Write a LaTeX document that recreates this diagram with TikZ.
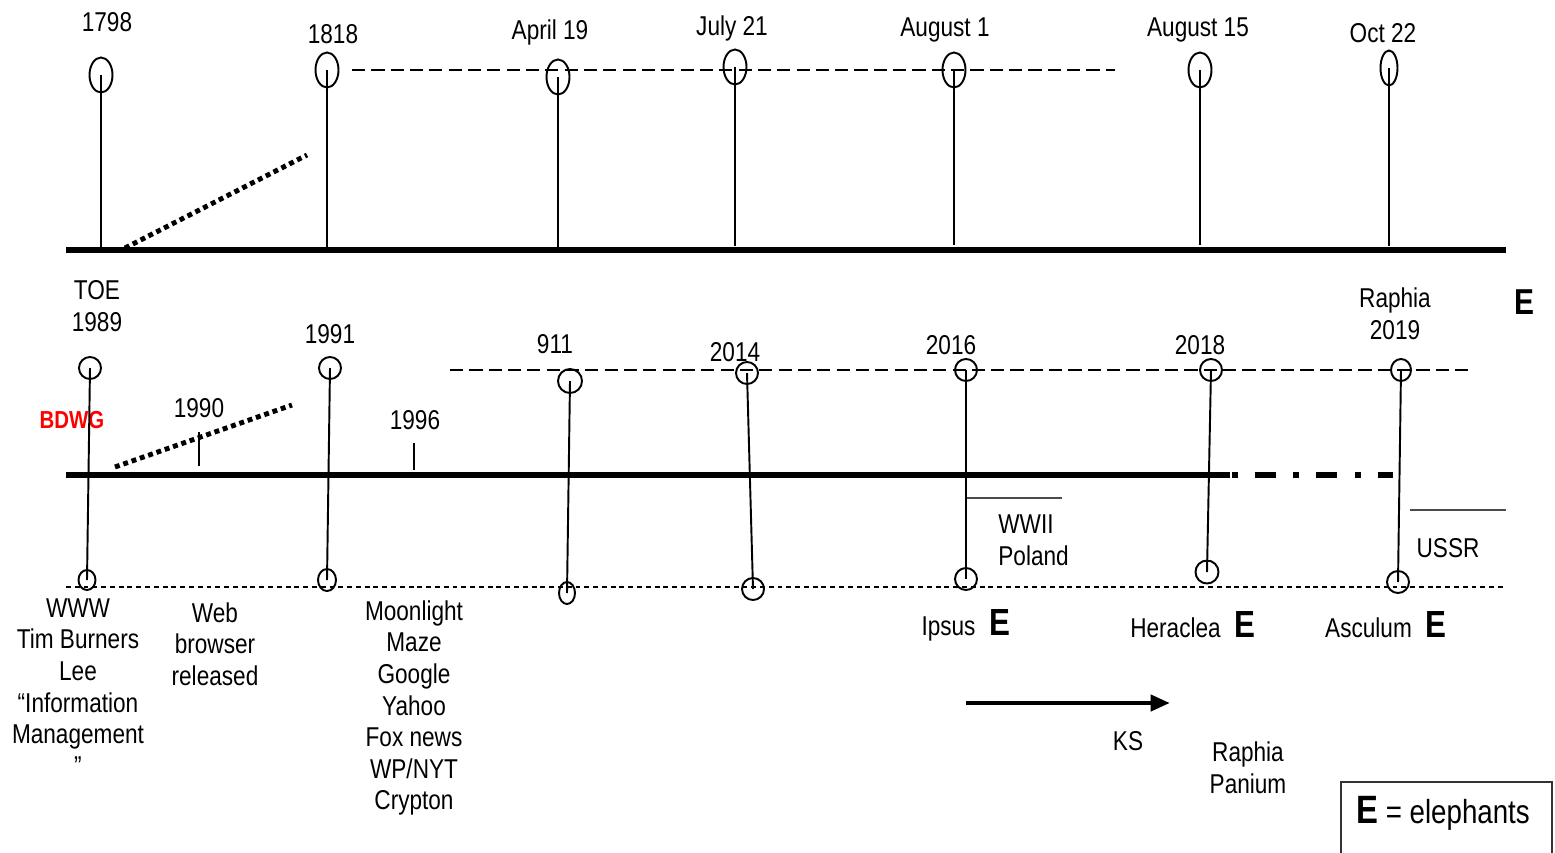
\documentclass[tikz,border=0pt]{standalone}
\usepackage{fontspec}
\setmainfont{Liberation Sans}[FakeStretch=0.83]
\usetikzlibrary{arrows.meta, shapes.geometric}

\begin{document}
\begin{tikzpicture}[
    x=0.02cm, y=-0.02cm,
    font=\fontsize{15.5}{18}\selectfont,
    bulb/.style={draw, ellipse, line width=1.1pt, inner sep=0pt, minimum width=0.46cm, minimum height=0.7cm},
    ring/.style={draw, ellipse, line width=1.1pt, inner sep=0pt, minimum width=0.44cm, minimum height=0.44cm},
    stem/.style={line width=1.1pt},
    axis/.style={line width=3.4pt},
    dots/.style={line width=2.8pt, dash pattern=on 2.8pt off 2.2pt},
    dashline/.style={line width=0.85pt, dash pattern=on 7.5pt off 3.5pt},
    fineline/.style={line width=0.6pt, dash pattern=on 2.8pt off 2.2pt},
    tick/.style={line width=0.6pt},
    note/.style={line width=0.6pt, black!70},
    lbl/.style={align=center, inner sep=0pt},
    elph/.style={font=\fontsize{20.5}{22}\selectfont\bfseries},
    arrow/.style={-{Triangle[length=11pt, width=9pt]}, line width=2.6pt}
]
\useasboundingbox (0,0) rectangle (1555,852);

\node[bulb] (e1798) at (101,75) {};
\node[bulb] (e1818) at (327,70) {};
\node[bulb] (eapr) at (558,77) {};
\node[bulb] (ejul) at (735,67) {};
\node[bulb] (eaug1) at (954,70) {};
\node[bulb] (eaug15) at (1200,70) {};
\node[bulb, minimum width=0.34cm] (eoct) at (1389,68) {};

\node[lbl] (l1798) at (107,22) {1798};
\node[lbl] (l1818) at (333,34) {1818};
\node[lbl] (lapr) at (550,32) {April 19};
\node[lbl] (ljul) at (732,28) {July 21};
\node[lbl] (laug1) at (945,30) {August 1};
\node[lbl] (laug15) at (1198,30) {August 15};
\node[lbl] (loct) at (1383,33) {Oct 22};

\coordinate (ta) at (66,250);
\coordinate (tb) at (1506,250);
\coordinate (td0) at (352,70);
\coordinate (td1) at (1115,70);
\coordinate (ts0) at (125,248);
\coordinate (ts1) at (307,155);

\draw[axis] (ta) -- (tb);
\draw[dashline] (td0) -- (td1);
\draw[dots] (ts0) -- (ts1);
\draw[stem] (e1798.center) -- (e1798.center |- ta);
\draw[stem] (e1818.center) -- (e1818.center |- ta);
\draw[stem] (eapr.center) -- (eapr.center |- ta);
\draw[stem] (ejul.center) -- ([yshift=2pt]ejul.center |- ta);
\draw[stem] (eaug1.center) -- ([yshift=3pt]eaug1.center |- ta);
\draw[stem] (eaug15.center) -- ([yshift=3pt]eaug15.center |- ta);
\draw[stem] (eoct.center) -- ([yshift=2pt]eoct.center |- ta);

\node[ring] (t1989) at (90,368) {};
\node[ring, minimum width=0.34cm, minimum height=0.4cm] (b1989) at (87,580) {};
\node[ring] (t1991) at (330,368) {};
\node[ring, minimum width=0.36cm] (b1991) at (327,580) {};
\node[ring, minimum width=0.48cm, minimum height=0.48cm] (t911) at (570,381) {};
\node[ring, minimum width=0.32cm] (b911) at (567,593) {};
\node[ring] (t2014) at (747,373) {};
\node[ring] (b2014) at (753,589) {};
\node[ring] (t2016) at (966,370) {};
\node[ring] (b2016) at (966,579) {};
\node[ring] (t2018) at (1211,370) {};
\node[ring, minimum width=0.46cm, minimum height=0.46cm] (b2018) at (1207,572) {};
\node[ring, minimum width=0.4cm] (t2019) at (1401,370) {};
\node[ring] (b2019) at (1398,582) {};

\node[lbl] (l1989) at (97,306) {TOE\\1989};
\node[lbl] (l1991) at (330,334) {1991};
\node[lbl] (l911) at (555,344) {911};
\node[lbl] (l2014) at (735,352) {2014};
\node[lbl] (l2016) at (951,345) {2016};
\node[lbl] (l2018) at (1200,345) {2018};
\node[lbl] (l2019) at (1395,314) {Raphia\\2019};
\node[lbl, elph] (etop) at (1524,302) {E};
\node[lbl, font=\fontsize{14}{16}\selectfont\bfseries, text=red] (bdwg) at (72,420) {BDWG};
\node[lbl] (l1990) at (199,408) {1990};
\node[lbl] (l1996) at (415,420) {1996};

\coordinate (ba) at (66,475);
\coordinate (bb) at (1230,475);
\coordinate (bc) at (1393,475);
\coordinate (bd0) at (450,370);
\coordinate (bd1) at (1470,370);
\coordinate (bf0) at (66,587);
\coordinate (bf1) at (1506,587);
\coordinate (bs0) at (115,467);
\coordinate (bs1) at (292,405);
\coordinate (k1990) at (199,432);
\coordinate (k1996) at (414,443);
\coordinate (w0) at (966,498);
\coordinate (w1) at (1062,498);
\coordinate (u0) at (1410,510);
\coordinate (u1) at (1506,510);

\draw[axis, line width=3.9pt] (ba) -- (bb);
\draw[line width=2.9pt, dash pattern=on 3.4pt off 9.6pt on 12pt off 10pt] ([xshift=1pt]bb) -- (bc);
\draw[dashline] (bd0) -- (bd1);
\draw[fineline] (bf0) -- (bf1);
\draw[dots] (bs0) -- (bs1);
\draw[tick] (k1990) -- ([yshift=5pt]k1990 |- ba);
\draw[tick] (k1996) -- ([yshift=3pt]k1996 |- ba);
\draw[note] (w0) -- (w1);
\draw[note] (u0) -- (u1);

\draw[stem] (t1989.center) -- (b1989.center);
\draw[stem] (t1991.center) -- (b1991.center);
\draw[stem] (t911.center) -- (b911.center);
\draw[stem] (t2014.center) -- (b2014.center);
\draw[stem] (t2016.center) -- (b2016.center);
\draw[stem] (t2018.center) -- (b2018.center);
\draw[stem] (t2019.center) -- (b2019.center);

\node[lbl, anchor=west, align=left] (wwii) at (998,540) {WWII\\Poland};
\node[lbl] (ussr) at (1448,548) {USSR};

\node[lbl] (www) at (78,687) {WWW\\Tim Burners\\Lee\\“Information\\Management\\”};
\node[lbl] (web) at (215,644) {Web\\browser\\released};
\node[lbl] (moon) at (414,708) {Moonlight\\Maze\\Google\\Yahoo\\Fox news\\WP/NYT\\Crypton};
\node[lbl] (ipsus) at (966,625) {Ipsus\hspace{8pt}{\fontsize{21.5}{22}\selectfont\bfseries E}};
\node[lbl] (heraclea) at (1193,625) {Heraclea\hspace{8pt}{\fontsize{21.5}{22}\selectfont\bfseries E}};
\node[lbl] (asculum) at (1386,625) {Asculum\hspace{8pt}{\fontsize{21.5}{22}\selectfont\bfseries E}};

\coordinate (ks0) at (966,703);
\coordinate (ks1) at (1170,703);
\draw[arrow] (ks0) -- (ks1);
\node[lbl] (ks) at (1128,741) {KS};
\node[lbl] (panium) at (1248,768) {Raphia\\Panium};

\node[lbl, font=\fontsize{19}{22}\selectfont] (legend) at (1443,813) {{\fontsize{22.5}{24}\selectfont\bfseries E} = elephants};
\draw[line width=0.7pt, black!80] (1341,856) |- (1552,782) -- (1552,856);
\end{tikzpicture}
\end{document}
